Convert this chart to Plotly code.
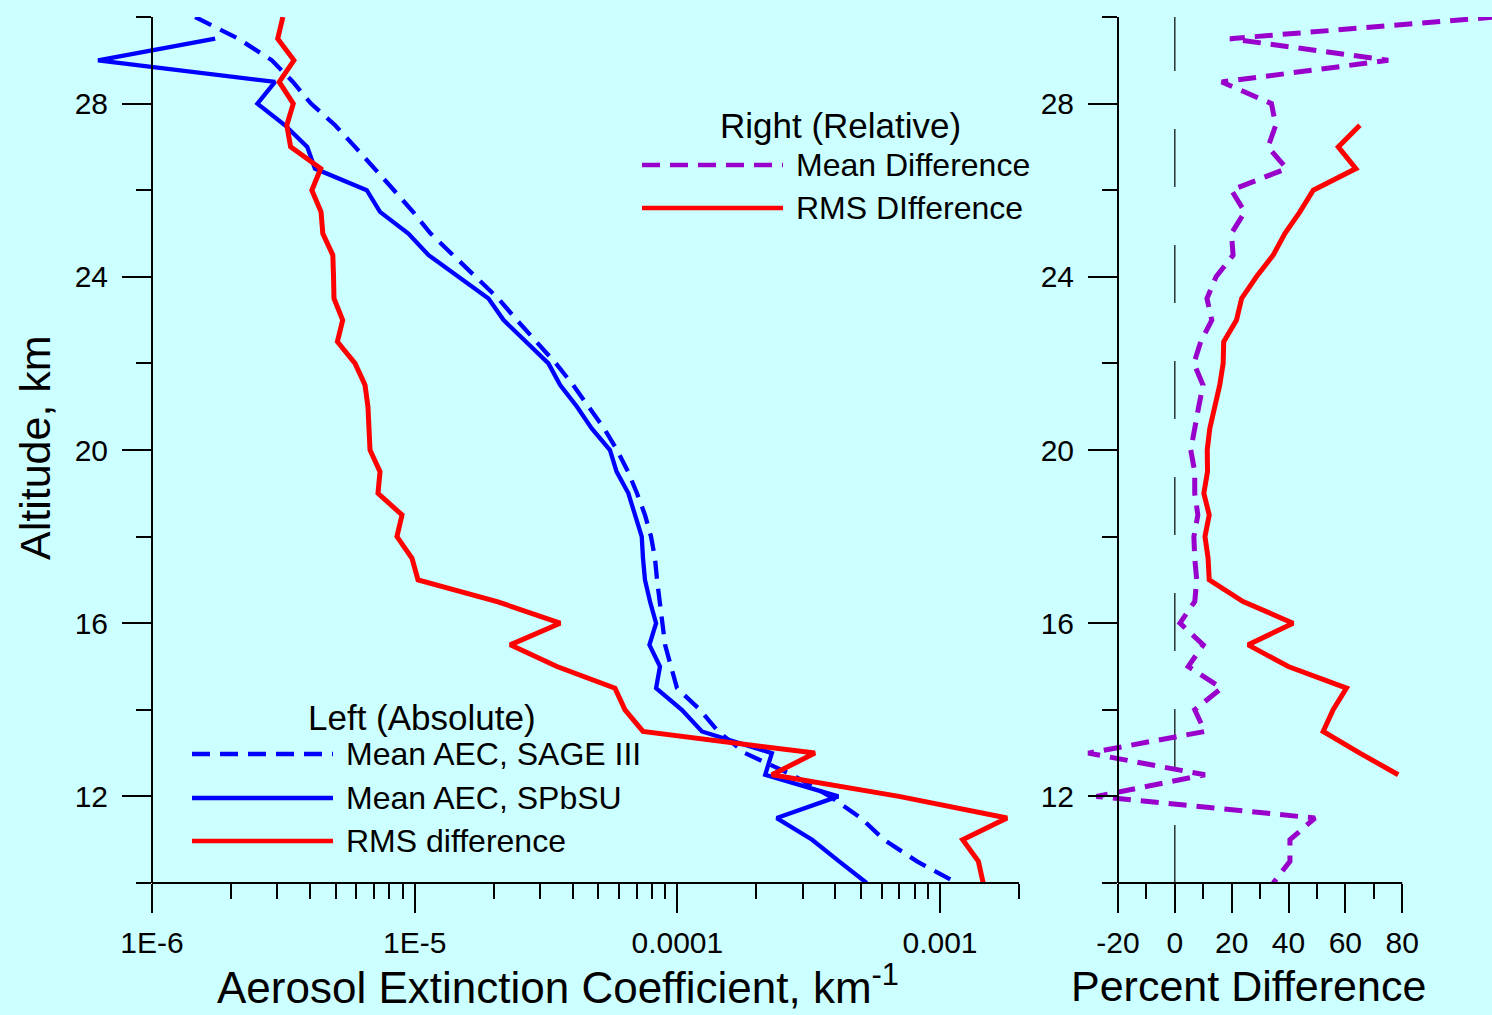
import math
import plotly.graph_objects as go

W, H = 1492, 1015
FONT = "Liberation Sans, Arial, sans-serif"

# ---------------- data ----------------
alt_full = [30, 29.5, 29, 28.5, 28, 27.5, 27, 26.5, 26, 25.5, 25, 24.5, 24, 23.5,
            23, 22.5, 22, 21.5, 21, 20.5, 20, 19.5, 19, 18.5, 18, 17.5, 17, 16.5,
            16, 15.5, 15, 14.5, 14, 13.5, 13, 12.5, 12, 11.5, 11, 10.5, 10]

# Left panel (absolute, km^-1)
sage_aec = [1.46e-6, 2.13e-6, 2.86e-6, 3.44e-6, 4.03e-6, 4.98e-6, 5.93e-6, 7.06e-6,
            8.34e-6, 9.86e-6, 1.15e-5, 1.40e-5, 1.71e-5, 2.08e-5,
            2.45e-5, 2.92e-5, 3.45e-5, 4.01e-5, 4.61e-5, 5.26e-5, 5.89e-5, 6.49e-5,
            7.02e-5, 7.53e-5, 7.94e-5, 8.22e-5, 8.37e-5, 8.59e-5, 8.74e-5, 8.98e-5,
            9.46e-5, 9.97e-5, 1.22e-4, 1.43e-4, 1.81e-4, 2.73e-4, 3.81e-4, 5.00e-4,
            6.12e-4, 8.17e-4, 1.16e-3]

alt_spbsu = [29.5, 29, 28.5, 28, 27.5, 27, 26.5, 26, 25.5, 25, 24.5, 24, 23.5,
             23, 22.5, 22, 21.5, 21, 20.5, 20, 19.5, 19, 18.5, 18, 17.5, 17, 16.5,
             16, 15.5, 15, 14.5, 14, 13.5, 13, 12.5, 12, 11.5, 11, 10.5, 10]
spbsu_aec = [1.74e-6, 6.23e-7, 2.94e-6, 2.52e-6, 3.21e-6, 3.90e-6, 4.17e-6, 6.57e-6,
             7.38e-6, 9.46e-6, 1.13e-5, 1.47e-5, 1.91e-5,
             2.18e-5, 2.65e-5, 3.23e-5, 3.58e-5, 4.15e-5, 4.72e-5, 5.54e-5, 5.87e-5,
             6.51e-5, 6.90e-5, 7.32e-5, 7.40e-5, 7.53e-5, 7.87e-5, 8.30e-5, 7.83e-5,
             8.59e-5, 8.30e-5, 1.04e-4, 1.24e-4, 2.29e-4, 2.16e-4, 4.10e-4, 2.39e-4,
             3.26e-4, 4.13e-4, 5.26e-4]

rms_abs = [3.15e-6, 3.01e-6, 3.47e-6, 3.05e-6, 3.45e-6, 3.26e-6, 3.37e-6, 4.39e-6,
           4.06e-6, 4.40e-6, 4.47e-6, 4.88e-6, 4.91e-6, 4.93e-6,
           5.32e-6, 5.08e-6, 5.93e-6, 6.47e-6, 6.64e-6, 6.70e-6, 6.76e-6, 7.38e-6,
           7.25e-6, 8.95e-6, 8.56e-6, 9.77e-6, 1.03e-5, 2.06e-5, 3.58e-5, 2.31e-5,
           3.48e-5, 5.79e-5, 6.32e-5, 7.40e-5, 3.34e-4, 2.29e-4, 6.98e-4, 1.80e-3,
           1.22e-3, 1.40e-3, 1.46e-3]

# Right panel (relative, %)
mean_diff = [113, 19.4, 75.1, 16.5, 34.0, 35.5, 32.8, 39.3, 19.9, 24.6, 19.9, 20.5,
             14.5, 11.3, 13.0, 9.1, 6.7, 9.9, 8.4, 7.0, 5.6, 7.0, 7.0, 8.1, 6.7, 7.0,
             7.7, 7.0, 1.8, 10.0, 4.7, 16.4, 7.0, 10.6, -30.5, 10.6, -27.6, 49.3,
             40.5, 40.5, 34.6]

alt_rms_rel = [27.5, 27, 26.5, 26, 25.5, 25, 24.5, 24, 23.5, 23, 22.5, 22, 21.5, 21,
               20.5, 20, 19.5, 19, 18.5, 18, 17.5, 17, 16.5, 16, 15.5, 15, 14.5, 14,
               13.5, 13, 12.5]
rms_rel = [65.1, 57.5, 63.7, 48.7, 44.0, 38.7, 34.6, 28.7, 23.5, 21.7, 17.2, 17.0,
           15.8, 14.1, 12.3, 11.4, 11.5, 10.2, 12.1, 10.6, 11.7, 12.1, 24.0, 41.6,
           25.8, 39.9, 60.4, 55.7, 52.2, 65.1, 78.6]

# tick definitions
y_major = [12, 16, 20, 24, 28]
y_minor = [10, 14, 18, 22, 26, 30]
y_labels = ["12", "16", "20", "24", "28"]
xl_major = [1e-6, 1e-5, 1e-4, 1e-3]
xl_labels = ["1E-6", "1E-5", "0.0001", "0.001"]
xl_minor = [m * 10.0 ** e for e in (-6, -5, -4) for m in range(2, 10)] + [2e-3]
xr_major = [-20, 0, 20, 40, 60, 80]
xr_labels = ["-20", "0", "20", "40", "60", "80"]
xr_minor = [-10, 10, 30, 50, 70]

BLUE = "#0000FF"
RED = "#FF0000"
PURPLE = "#9900CC"
BG = "#CCFFFF"

# ---------------- layout geometry (pixels) ----------------
PLOT_TOP, PLOT_BOT = 17, 883
L_AXIS_PX, L_DOM = 152, (60, 1019)
R_AXIS_PX, R_DOM = 1118, (1060, 1492)
DEC_PX = 262.67
R_UNIT_PX = 2.842


def xp(px):
    return px / W


def yp(py):
    return (PLOT_BOT - py) / (PLOT_BOT - PLOT_TOP)


l_range = [-6 - (L_AXIS_PX - L_DOM[0]) / DEC_PX, -6 + (L_DOM[1] - L_AXIS_PX) / DEC_PX]
r_range = [-20 - (R_AXIS_PX - R_DOM[0]) / R_UNIT_PX, -20 + (R_DOM[1] - R_AXIS_PX) / R_UNIT_PX]

DASH = "18px,10px"

fig = go.Figure()
fig.add_trace(go.Scatter(x=sage_aec, y=alt_full, mode="lines", name="Mean AEC, SAGE III",
                         line=dict(color=BLUE, width=4.3, dash=DASH), xaxis="x", yaxis="y"))
fig.add_trace(go.Scatter(x=spbsu_aec, y=alt_spbsu, mode="lines", name="Mean AEC, SPbSU",
                         line=dict(color=BLUE, width=4.3), xaxis="x", yaxis="y"))
fig.add_trace(go.Scatter(x=rms_abs, y=alt_full, mode="lines", name="RMS difference",
                         line=dict(color=RED, width=5), xaxis="x", yaxis="y"))
fig.add_trace(go.Scatter(x=mean_diff, y=alt_full, mode="lines", name="Mean Difference",
                         line=dict(color=PURPLE, width=5, dash=DASH), xaxis="x2", yaxis="y2"))
fig.add_trace(go.Scatter(x=rms_rel, y=alt_rms_rel, mode="lines", name="RMS DIfference",
                         line=dict(color=RED, width=5), xaxis="x2", yaxis="y2"))

tickfont = dict(family=FONT, size=30, color="black")
common_y = dict(range=[10, 30], tickmode="array", tickvals=y_major, ticktext=y_labels,
                ticks="outside", ticklen=29, tickwidth=2, tickcolor="black",
                showline=True, linewidth=2, linecolor="black", showgrid=False,
                zeroline=False, tickfont=tickfont, ticklabelstandoff=8,
                minor=dict(tickmode="array", tickvals=y_minor, ticks="outside",
                           ticklen=15, tickwidth=2, tickcolor="black", showgrid=False),
                anchor="free", domain=[0, 1])

fig.update_layout(
    width=W, height=H,
    margin=dict(l=0, r=0, t=PLOT_TOP, b=H - PLOT_BOT),
    paper_bgcolor=BG, plot_bgcolor=BG,
    showlegend=False,
    font=dict(family=FONT, color="black"),
    xaxis=dict(type="log", domain=[xp(L_DOM[0]), xp(L_DOM[1])], range=l_range,
               anchor="y", tickmode="array", tickvals=xl_major, ticktext=xl_labels,
               ticks="outside", ticklen=29, tickwidth=2, tickcolor="black",
               showline=False, showgrid=False, zeroline=False, tickfont=tickfont,
               ticklabelstandoff=4,
               minor=dict(tickmode="array", tickvals=xl_minor, ticks="outside",
                          ticklen=15, tickwidth=2, tickcolor="black", showgrid=False)),
    xaxis2=dict(domain=[xp(R_DOM[0]), 1], range=r_range, anchor="y2",
                tickmode="array", tickvals=xr_major, ticktext=xr_labels,
                ticks="outside", ticklen=29,
                tickwidth=2, tickcolor="black", showline=False, showgrid=False,
                zeroline=False, tickfont=tickfont, ticklabelstandoff=4,
                minor=dict(tickmode="array", tickvals=xr_minor, ticks="outside",
                           ticklen=15, tickwidth=2, tickcolor="black", showgrid=False)),
    yaxis=dict(**common_y, position=xp(L_AXIS_PX)),
    yaxis2=dict(**common_y, position=xp(R_AXIS_PX)),
)

shapes = []
# bottom axis lines (span only the labelled range)
shapes.append(dict(type="line", xref="paper", yref="paper", x0=xp(L_AXIS_PX), x1=xp(L_DOM[1]),
                   y0=0, y1=0, line=dict(color="black", width=2)))
shapes.append(dict(type="line", xref="paper", yref="paper", x0=xp(R_AXIS_PX),
                   x1=xp(R_AXIS_PX + 100 * R_UNIT_PX), y0=0, y1=0,
                   line=dict(color="black", width=2)))
# zero reference line in right panel
shapes.append(dict(type="line", xref="x2", yref="y2", x0=0, x1=0, y0=10, y1=30,
                   layer="below", line=dict(color="black", width=1.2, dash="58px,58px")))

annotations = []


def legend_item(x0, x1, py, color, dash, label, tx):
    shapes.append(dict(type="line", xref="paper", yref="paper", x0=xp(x0), x1=xp(x1),
                       y0=yp(py), y1=yp(py),
                       line=dict(color=color, width=4.5, dash=dash)))
    annotations.append(dict(text=label, xref="paper", yref="paper", x=xp(tx), y=yp(py),
                            xanchor="left", yanchor="middle", showarrow=False,
                            font=dict(family=FONT, size=32, color="black")))


def legend_title(label, cx, cy):
    annotations.append(dict(text=label, xref="paper", yref="paper", x=xp(cx), y=yp(cy),
                            xanchor="center", yanchor="middle", showarrow=False,
                            font=dict(family=FONT, size=35, color="black")))


legend_title("Right (Relative)", 840, 126)
legend_item(642, 783, 165, PURPLE, DASH, "Mean Difference", 794)
legend_item(642, 783, 208, RED, "solid", "RMS DIfference", 794)

legend_title("Left (Absolute)", 422, 717)
legend_item(192, 333, 754, BLUE, DASH, "Mean AEC, SAGE III", 344)
legend_item(192, 333, 798, BLUE, "solid", "Mean AEC, SPbSU", 344)
legend_item(192, 333, 841, RED, "solid", "RMS difference", 344)

# axis titles
annotations.append(dict(text="Aerosol Extinction Coefficient, km<sup>-1</sup>",
                        xref="paper", yref="paper", x=xp(215), y=yp(1014),
                        xanchor="left", yanchor="bottom", showarrow=False,
                        font=dict(family=FONT, size=44, color="black")))
annotations.append(dict(text="Percent Difference", xref="paper", yref="paper",
                        x=xp(1248), y=yp(986), xanchor="center", yanchor="middle",
                        showarrow=False, font=dict(family=FONT, size=43, color="black")))
annotations.append(dict(text="Altitude, km", xref="paper", yref="paper",
                        x=xp(35), y=yp(448), xanchor="center", yanchor="middle",
                        textangle=-90, showarrow=False,
                        font=dict(family=FONT, size=43, color="black")))

fig.update_layout(shapes=shapes, annotations=annotations)
fig.write_html(
    "out.html",
    config={"displayModeBar": False},
    post_script=(
        "document.body.style.margin='0';"
        "document.body.style.padding='0';"
        "document.body.style.overflow='hidden';"
        "document.body.style.background='" + BG + "';"
    ),
)
